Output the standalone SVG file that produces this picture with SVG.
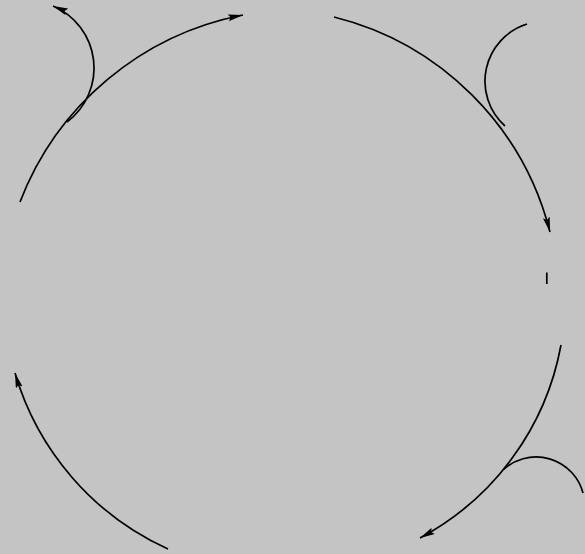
<svg xmlns="http://www.w3.org/2000/svg" width="585" height="554" viewBox="0 0 585 554">
  <style>
    .edge { fill: none; stroke: #000; stroke-width: 1.7; }
  </style>
  <defs>
    <marker id="arrow" markerUnits="userSpaceOnUse" markerWidth="16" markerHeight="8" refX="15" refY="3.5" orient="auto">
      <path d="M0,0 L15,3.5 L0,7 L2.5,3.5 z" fill="#000"/>
    </marker>
  </defs>
  <rect x="0" y="0" width="585" height="554" fill="#c4c4c4"/>
  <g id="connectors">
    <path id="arc-top-left" class="edge" d="M20,202 A300,300 0 0 1 243,15" marker-end="url(#arrow)"/>
    <path id="loop-top-left" class="edge" d="M67,122 A67.4,67.4 0 0 0 53,6" marker-end="url(#arrow)"/>
    <path id="arc-top-right" class="edge" d="M334,17 A297,297 0 0 1 550,232" marker-end="url(#arrow)"/>
    <path id="loop-top-right" class="edge" d="M527,24 A60,60 0 0 0 505,126"/>
    <path id="tick-right" class="edge" d="M546.8,272.5 L546.8,284"/>
    <path id="arc-bottom-right" class="edge" d="M561,345 A275,275 0 0 1 420,538" marker-end="url(#arrow)"/>
    <path id="loop-bottom-right" class="edge" d="M503,470 A48.5,48.5 0 0 1 583,493"/>
    <path id="arc-bottom-left" class="edge" d="M168,549 A280,280 0 0 1 15,373" marker-end="url(#arrow)"/>
  </g>
</svg>
